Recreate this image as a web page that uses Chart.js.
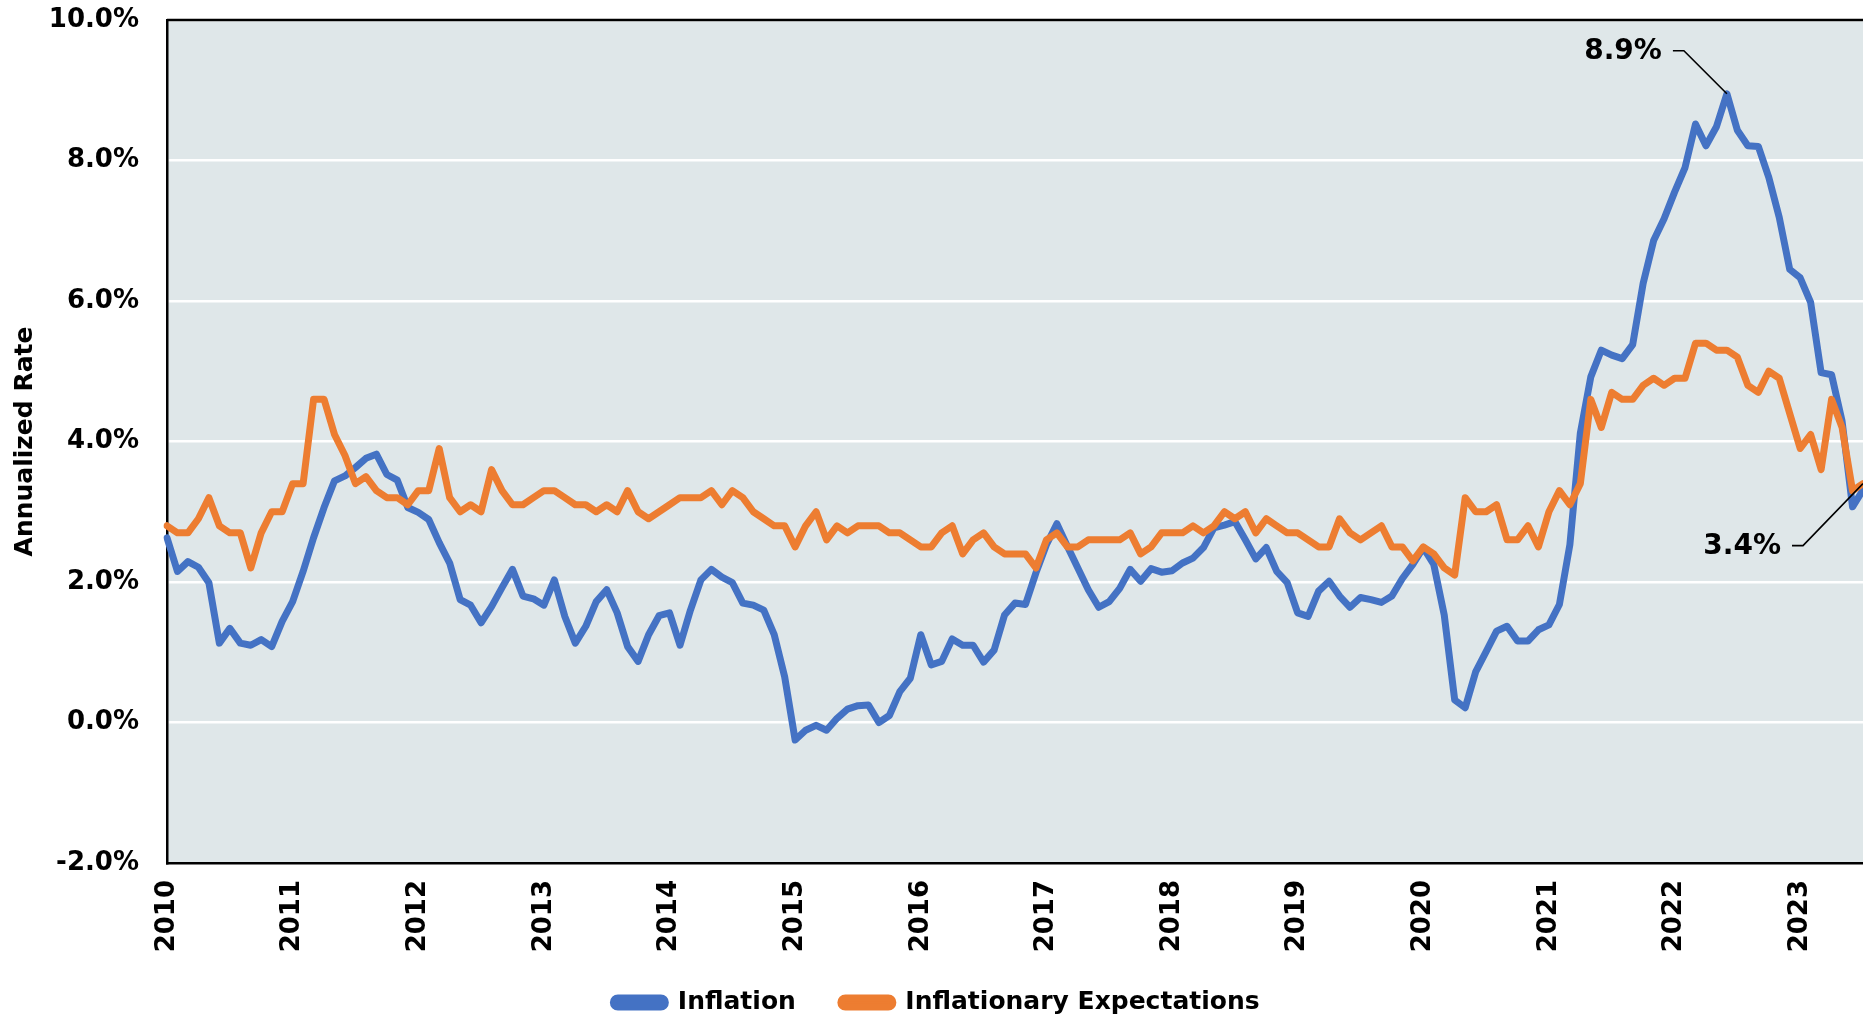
<!DOCTYPE html>
<html>
<head>
<meta charset="utf-8">
<title>Inflation vs Inflationary Expectations</title>
<script src="https://cdn.jsdelivr.net/npm/chart.js@4.4.1/dist/chart.umd.min.js"></script>
<style>
  html, body { margin: 0; padding: 0; background: #fff; overflow: hidden; }
</style>
</head>
<body>
<canvas id="rates" width="1863" height="1021"></canvas>
<script>
// monthly readings, Jan 2010 .. Jul 2023 (annual rate, %)
const yearLabels = ['2010', '2011', '2012', '2013', '2014', '2015', '2016',
  '2017', '2018', '2019', '2020', '2021', '2022', '2023'];

const inflation = [
  2.63, 2.15, 2.29, 2.21, 1.99, 1.13, 1.34, 1.13, 1.10, 1.18, 1.08, 1.44,
  1.72, 2.15, 2.63, 3.06, 3.44, 3.51, 3.63, 3.76, 3.82, 3.53, 3.45, 3.06,
  2.99, 2.89, 2.56, 2.27, 1.75, 1.67, 1.42, 1.65, 1.92, 2.18, 1.80, 1.76,
  1.67, 2.03, 1.51, 1.13, 1.37, 1.72, 1.89, 1.56, 1.08, 0.87, 1.25, 1.52,
  1.56, 1.10, 1.60, 2.03, 2.18, 2.07, 1.99, 1.70, 1.67, 1.60, 1.25, 0.65,
  -0.25, -0.11, -0.04, -0.11, 0.06, 0.19, 0.24, 0.25, 0.00, 0.10, 0.44, 0.63,
  1.25, 0.82, 0.87, 1.19, 1.10, 1.10, 0.86, 1.03, 1.53, 1.70, 1.68, 2.13,
  2.53, 2.83, 2.51, 2.20, 1.89, 1.64, 1.72, 1.91, 2.18, 2.01, 2.19, 2.14,
  2.16, 2.27, 2.34, 2.49, 2.77, 2.81, 2.86, 2.60, 2.33, 2.49, 2.15, 1.99,
  1.56, 1.51, 1.87, 2.01, 1.80, 1.64, 1.78, 1.75, 1.71, 1.80, 2.05, 2.25,
  2.49, 2.25, 1.53, 0.32, 0.21, 0.72, 1.01, 1.30, 1.37, 1.16, 1.16, 1.32,
  1.39, 1.68, 2.53, 4.12, 4.92, 5.30, 5.23, 5.18, 5.38, 6.25, 6.86, 7.17,
  7.55, 7.90, 8.52, 8.21, 8.48, 8.95, 8.43, 8.21, 8.20, 7.76, 7.19, 6.45,
  6.33, 5.98, 4.98, 4.95, 4.29, 3.07, 3.31
];

const expectations = [
  2.8, 2.7, 2.7, 2.9, 3.2, 2.8, 2.7, 2.7, 2.2, 2.7, 3.0, 3.0,
  3.4, 3.4, 4.6, 4.6, 4.1, 3.8, 3.4, 3.5, 3.3, 3.2, 3.2, 3.1,
  3.3, 3.3, 3.9, 3.2, 3.0, 3.1, 3.0, 3.6, 3.3, 3.1, 3.1, 3.2,
  3.3, 3.3, 3.2, 3.1, 3.1, 3.0, 3.1, 3.0, 3.3, 3.0, 2.9, 3.0,
  3.1, 3.2, 3.2, 3.2, 3.3, 3.1, 3.3, 3.2, 3.0, 2.9, 2.8, 2.8,
  2.5, 2.8, 3.0, 2.6, 2.8, 2.7, 2.8, 2.8, 2.8, 2.7, 2.7, 2.6,
  2.5, 2.5, 2.7, 2.8, 2.4, 2.6, 2.7, 2.5, 2.4, 2.4, 2.4, 2.2,
  2.6, 2.7, 2.5, 2.5, 2.6, 2.6, 2.6, 2.6, 2.7, 2.4, 2.5, 2.7,
  2.7, 2.7, 2.8, 2.7, 2.8, 3.0, 2.9, 3.0, 2.7, 2.9, 2.8, 2.7,
  2.7, 2.6, 2.5, 2.5, 2.9, 2.7, 2.6, 2.7, 2.8, 2.5, 2.5, 2.3,
  2.5, 2.4, 2.2, 2.1, 3.2, 3.0, 3.0, 3.1, 2.6, 2.6, 2.8, 2.5,
  3.0, 3.3, 3.1, 3.4, 4.6, 4.2, 4.7, 4.6, 4.6, 4.8, 4.9, 4.8,
  4.9, 4.9, 5.4, 5.4, 5.3, 5.3, 5.2, 4.8, 4.7, 5.0, 4.9, 4.4,
  3.9, 4.1, 3.6, 4.6, 4.2, 3.3, 3.4
];

// labelled points: [dataset index, month index, text]
const callouts = [
  [0, 149, '8.9%'],
  [1, 162, '3.4%']
];

const months = inflation.map((_, i) =>
  `${yearLabels[Math.floor(i / 12)]}-${String(i % 12 + 1).padStart(2, '0')}`);

const FONT = "'DejaVu Sans', 'Liberation Sans', sans-serif";
Chart.defaults.font.family = FONT;
Chart.defaults.color = '#000';

// grey-blue plot area plus the black frame on top
const plotFrame = {
  id: 'plotFrame',
  beforeLayout(chart) {
    // legend padding doubles as item spacing; give back the extra height
    const lg = chart.legend;
    if (lg && !lg._trimmed) {
      const fit = lg.fit;
      lg.fit = function () { fit.call(this); this.height -= 15; };
      lg._trimmed = true;
    }
  },
  afterLayout(chart) {
    chart.legend.top -= 11;
    chart.legend.bottom = chart.height;
  },
  beforeDraw(chart) {
    const { ctx, chartArea: a } = chart;
    ctx.save();
    ctx.fillStyle = '#dfe7e9';
    ctx.fillRect(a.left, a.top, a.right - a.left, a.bottom - a.top);
    ctx.restore();
  },
  beforeDatasetsDraw(chart) {
    const { ctx, chartArea: a } = chart;
    ctx.save();
    ctx.strokeStyle = '#000';
    ctx.lineWidth = 2.5;
    ctx.beginPath();
    ctx.moveTo(a.left, a.top);
    ctx.lineTo(a.right + 5, a.top);
    ctx.stroke();
    ctx.restore();
  }
};

// leader lines with value labels (8.9% up-left, 3.4% down-left)
const calloutLabels = {
  id: 'calloutLabels',
  afterDatasetsDraw(chart) {
    const { ctx } = chart;
    ctx.save();
    ctx.strokeStyle = '#000';
    ctx.lineWidth = 1.6;
    ctx.fillStyle = '#000';
    ctx.font = `bold 28px ${FONT}`;
    ctx.textAlign = 'right';
    ctx.textBaseline = 'middle';
    callouts.forEach(([ds, idx, text]) => {
      const pt = chart.getDatasetMeta(ds).data[idx];
      const up = chart.data.datasets[ds].data[idx] > 6;
      const ex = pt.x - (up ? 43 : 60);
      const ey = pt.y + (up ? -43 : 62);
      ctx.beginPath();
      ctx.moveTo(pt.x, pt.y);
      ctx.lineTo(ex, ey);
      ctx.lineTo(ex - 11, ey);
      ctx.stroke();
      ctx.fillText(text, ex - 22, ey + 1);
    });
    ctx.restore();
  }
};

new Chart(document.getElementById('rates'), {
  type: 'line',
  data: {
    labels: months,
    datasets: [
      {
        label: 'Inflation',
        data: inflation,
        borderColor: '#4472c4',
        backgroundColor: '#4472c4',
        borderWidth: 7,
        order: 2
      },
      {
        label: 'Inflationary Expectations',
        data: expectations,
        borderColor: '#ed7d31',
        backgroundColor: '#ed7d31',
        borderWidth: 7,
        order: 1
      }
    ]
  },
  options: {
    responsive: false,
    animation: false,
    layout: { padding: { top: 0, left: 10, right: 0, bottom: 0 } },
    elements: {
      point: { radius: 0 },
      line: { tension: 0, borderJoinStyle: 'round', borderCapStyle: 'round' }
    },
    plugins: {
      tooltip: { enabled: false },
      legend: {
        position: 'bottom',
        labels: {
          font: { size: 25, weight: 'bold' },
          boxWidth: 52,
          boxHeight: 9,
          useBorderRadius: true,
          borderRadius: 4.5,
          padding: 45,
          sort: (a, b) => a.datasetIndex - b.datasetIndex
        }
      }
    },
    scales: {
      x: {
        type: 'category',
        offset: false,
        grid: { display: false },
        border: { color: '#000', width: 2.5 },
        ticks: {
          autoSkip: false,
          minRotation: 90,
          maxRotation: 90,
          padding: 9,
          font: { size: 26, weight: 'bold' },
          callback: (v, i) => (i % 12 === 0 ? yearLabels[i / 12] : null)
        },
        afterFit: (scale) => { scale.height = 93; }
      },
      y: {
        min: -2,
        max: 10,
        border: { color: '#000', width: 2.5 },
        grid: { color: '#ffffff', lineWidth: 2.5, drawTicks: false },
        ticks: {
          stepSize: 2,
          padding: 28,
          font: { size: 26, weight: 'bold' },
          callback: (v) => v.toFixed(1) + '%'
        },
        title: {
          display: true,
          text: 'Annualized Rate',
          font: { size: 25, weight: 'bold' },
          padding: { top: 0, bottom: 0 }
        },
        afterFit: (scale) => {
          scale.width = 157;
          scale.paddingTop = 20;
          scale.paddingBottom = 10;
        }
      }
    }
  },
  plugins: [plotFrame, calloutLabels]
});
</script>
</body>
</html>
